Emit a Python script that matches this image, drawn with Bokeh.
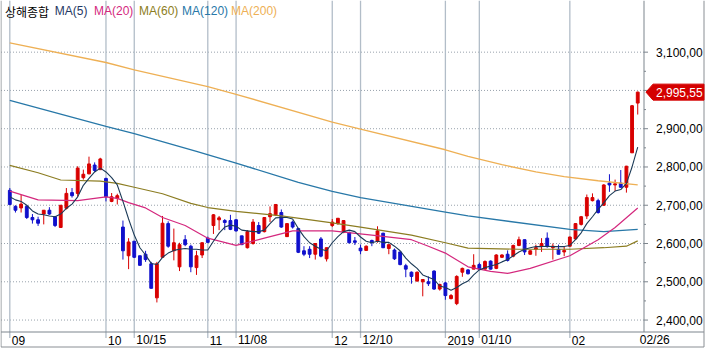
from bokeh.plotting import figure
from bokeh.models import Label, Range1d, ColumnDataSource
from bokeh.core.properties import value
from bokeh.embed import file_html
from bokeh.resources import INLINE

# ---------------- data ----------------
opens = [2739, 2697, 2693, 2697, 2668, 2662, 2677, 2687, 2670, 2642,
         2692, 2733, 2731, 2772, 2782, 2805, 2793, 2770, 2710, 2718,
         2643, 2568, 2606, 2568, 2572, 2547, 2458, 2564, 2652, 2581,
         2539, 2610, 2593, 2537, 2570, 2614, 2647, 2662, 2660, 2660,
         2662, 2620, 2589, 2600, 2647, 2631, 2670, 2675, 2681, 2618,
         2656, 2639, 2581, 2585, 2572, 2612, 2560, 2647, 2652, 2629,
         2629, 2607, 2588, 2582, 2608, 2606, 2627, 2587, 2583, 2578,
         2542, 2525, 2502, 2500, 2500, 2528, 2481, 2497, 2456, 2443,
         2525, 2531, 2533, 2545, 2533, 2554, 2535, 2564, 2572, 2567,
         2595, 2610, 2572, 2585, 2592, 2614, 2589, 2585, 2578, 2593,
         2612, 2650, 2672, 2712, 2712, 2700, 2758, 2753, 2758, 2747,
         2837, 2967]
highs = [2745, 2700, 2727, 2700, 2677, 2670, 2687, 2695, 2672, 2700,
         2745, 2745, 2802, 2793, 2827, 2812, 2824, 2772, 2732, 2730,
         2660, 2614, 2606, 2568, 2581, 2552, 2552, 2672, 2658, 2639,
         2602, 2622, 2597, 2581, 2603, 2618, 2677, 2672, 2664, 2675,
         2664, 2620, 2635, 2664, 2656, 2668, 2697, 2703, 2689, 2652,
         2660, 2641, 2593, 2593, 2600, 2617, 2589, 2664, 2666, 2660,
         2631, 2617, 2597, 2595, 2610, 2645, 2628, 2597, 2587, 2578,
         2547, 2527, 2527, 2506, 2514, 2530, 2495, 2500, 2468, 2517,
         2537, 2533, 2572, 2550, 2556, 2556, 2572, 2572, 2582, 2597,
         2618, 2610, 2582, 2597, 2614, 2629, 2600, 2597, 2592, 2618,
         2653, 2672, 2728, 2731, 2717, 2755, 2781, 2767, 2792, 2803,
         2962, 2997]
lows = [2700, 2681, 2681, 2664, 2652, 2646, 2650, 2675, 2643, 2641,
        2689, 2720, 2722, 2767, 2781, 2787, 2792, 2710, 2708, 2702,
        2558, 2533, 2562, 2542, 2552, 2482, 2446, 2562, 2589, 2556,
        2528, 2593, 2525, 2518, 2562, 2602, 2625, 2635, 2635, 2635,
        2631, 2596, 2587, 2597, 2625, 2629, 2656, 2672, 2641, 2617,
        2639, 2575, 2567, 2562, 2558, 2564, 2553, 2643, 2649, 2627,
        2600, 2596, 2572, 2581, 2593, 2602, 2588, 2572, 2557, 2543,
        2512, 2495, 2500, 2462, 2489, 2479, 2477, 2453, 2454, 2439,
        2513, 2519, 2533, 2532, 2532, 2532, 2533, 2562, 2553, 2564,
        2593, 2570, 2571, 2568, 2578, 2589, 2558, 2572, 2567, 2592,
        2610, 2647, 2664, 2710, 2678, 2698, 2735, 2737, 2746, 2733,
        2837, 2937]
closes = [2702, 2687, 2703, 2668, 2662, 2653, 2687, 2677, 2647, 2700,
          2731, 2725, 2797, 2781, 2808, 2791, 2821, 2722, 2722, 2725,
          2581, 2604, 2564, 2543, 2558, 2483, 2547, 2653, 2593, 2602,
          2597, 2597, 2539, 2568, 2602, 2603, 2675, 2667, 2655, 2637,
          2633, 2597, 2631, 2656, 2627, 2668, 2678, 2702, 2643, 2652,
          2643, 2577, 2572, 2572, 2600, 2567, 2589, 2656, 2666, 2660,
          2602, 2603, 2581, 2593, 2602, 2633, 2589, 2597, 2560, 2545,
          2533, 2514, 2525, 2506, 2495, 2481, 2493, 2464, 2464, 2514,
          2535, 2521, 2543, 2533, 2553, 2533, 2570, 2570, 2556, 2595,
          2610, 2578, 2581, 2589, 2600, 2592, 2593, 2572, 2582, 2617,
          2652, 2670, 2720, 2720, 2681, 2753, 2753, 2756, 2747, 2802,
          2960, 2995.55]

ma5 = [2722, 2714, 2710, 2700, 2685, 2677, 2675, 2672, 2670, 2677,
       2692, 2703, 2722, 2752, 2770, 2787, 2797, 2787, 2772, 2753,
       2710, 2664, 2622, 2589, 2570, 2548, 2545, 2564, 2575, 2582,
       2585, 2587, 2585, 2585, 2583, 2583, 2606, 2627, 2643, 2648,
       2645, 2635, 2633, 2631, 2631, 2635, 2652, 2667, 2668, 2668,
       2664, 2639, 2618, 2602, 2593, 2585, 2581, 2602, 2618, 2631,
       2635, 2631, 2617, 2606, 2602, 2606, 2603, 2603, 2593, 2581,
       2562, 2547, 2535, 2518, 2512, 2506, 2489, 2485, 2478, 2485,
       2495, 2502, 2518, 2531, 2537, 2541, 2545, 2552, 2558, 2568,
       2578, 2585, 2589, 2592, 2592, 2593, 2592, 2592, 2592, 2595,
       2610, 2628, 2652, 2670, 2689, 2706, 2725, 2737, 2741, 2757,
       2800, 2852]

ma20_idx = [0, 5, 12, 15, 17, 19, 21, 24, 27, 31, 35, 40, 45, 50, 57, 64, 71, 74, 77, 81, 85, 88, 92, 99, 104, 107, 111]
ma20_val = [2737, 2714, 2712, 2718, 2722, 2718, 2707, 2693, 2668, 2647, 2614, 2595, 2614, 2633, 2633, 2622, 2610, 2593, 2575, 2539, 2527, 2522, 2535, 2568, 2610, 2642, 2693]

ma60_idx = [0, 5, 9, 16, 19, 22, 27, 32, 35, 40, 48, 57, 62, 71, 77, 81, 90, 99, 105, 109, 111]
ma60_val = [2804, 2785, 2766, 2763, 2757, 2747, 2730, 2705, 2694, 2684, 2672, 2654, 2643, 2622, 2602, 2588, 2585, 2585, 2589, 2593, 2607]

ma120_idx = [0, 17, 22, 33, 40, 51, 57, 62, 77, 81, 99, 105, 111]
ma120_val = [2974, 2906, 2887, 2841, 2810, 2760, 2736, 2720, 2682, 2672, 2637, 2631, 2637]

ma200_idx = [0, 17, 22, 35, 40, 57, 62, 77, 81, 87, 93, 98, 104, 111]
ma200_val = [3124, 3073, 3054, 3010, 2990, 2917, 2899, 2845, 2828, 2806, 2787, 2775, 2764, 2753]

date_idx = [0, 17, 22, 35, 40, 57, 62, 77, 83, 99, 111]
date_labels = ["09", "10", "10/15", "11", "11/08", "12", "12/10", "2019", "01/10", "02", "02/26"]
grid_idx = [0, 17, 22, 35, 40, 57, 62, 77, 83, 99]

price_ticks = [2400, 2500, 2600, 2700, 2800, 2900, 3000, 3100]
price_minor = [2450, 2550, 2650, 2750, 2850, 2950, 3050]
label_ticks = [2400, 2500, 2600, 2700, 2800, 2900, 3100]
label_texts = ["2,400,00", "2,500,00", "2,600,00", "2,700,00", "2,800,00", "2,900,00", "3,100,00"]
last_price = 2995.55
last_label = "2,995,55"

legend_texts = ["상해종합", "MA(5)", "MA(20)", "MA(60)", "MA(120)", "MA(200)"]
legend_colors = ["#000000", "#1f3864", "#d4287e", "#8c7d22", "#2878a8", "#eeb055"]

# ---------------- layout (pixel geometry -> data space) ----------------
W, H = 705, 348
SX = 5.657            # px per candle
SY = 0.3827           # px per index point
X0 = -9.3 / SX
X1 = X0 + W / SX
Y1 = 3235.0
Y0 = Y1 - H / SY


def dx(px):
    return X0 + px / SX


def dy(py):
    return Y1 - py / SY


AXIS_PX, RULE_PY = 643.5, 331.5
AX, RY = dx(AXIS_PX), dy(RULE_PY)
LEFT, RIGHT, BOTTOM, TOP = dx(0.5), dx(703.5), dy(346.5), dy(0)

UP, DOWN = "#d80000", "#1010cc"
GRID_V, GRID_H, AXIS_C, BORDER_C = "#b2bdc8", "#98a2ac", "#7d858d", "#8a8f94"
FONT = value("Liberation Sans")

p = figure(width=W, height=H, x_range=Range1d(X0, X1), y_range=Range1d(Y0, Y1),
           output_backend="svg", toolbar_location=None,
           x_axis_location=None, y_axis_location=None, min_border=0)
p.grid.visible = False
p.outline_line_color = None
p.background_fill_color = "white"
p.border_fill_color = "white"

# horizontal dotted grid
p.segment(x0=[LEFT] * len(price_ticks), y0=price_ticks, x1=[AX] * len(price_ticks), y1=price_ticks,
          line_color=GRID_H, line_width=1, line_dash="1 2")
# vertical grid (runs a little below the rule as tick marks)
p.segment(x0=grid_idx, y0=[dy(RULE_PY + 6)] * len(grid_idx), x1=grid_idx, y1=[TOP] * len(grid_idx),
          line_color=GRID_V, line_width=1.3)

# candles
idx = list(range(len(closes)))
colors = [UP if c >= o else DOWN for o, c in zip(opens, closes)]
src = ColumnDataSource(dict(x=idx, h=highs, l=lows,
                            top=[max(o, c) for o, c in zip(opens, closes)],
                            bot=[min(o, c) for o, c in zip(opens, closes)],
                            col=colors))
p.segment(x0="x", y0="l", x1="x", y1="h", line_color="col", line_width=1, source=src)
p.vbar(x="x", width=0.5, top="top", bottom="bot", fill_color="col", line_color="col",
       line_width=1, source=src)

# moving averages
p.line(ma200_idx, ma200_val, line_color=legend_colors[5], line_width=1.3)
p.line(ma120_idx, ma120_val, line_color=legend_colors[4], line_width=1.3)
p.line(ma60_idx, ma60_val, line_color=legend_colors[3], line_width=1.2)
p.line(ma20_idx, ma20_val, line_color=legend_colors[2], line_width=1.2)
p.line(idx, ma5, line_color="#1b3a57", line_width=1.1)

# right price axis
p.segment(x0=[AX], y0=[RY], x1=[AX], y1=[TOP], line_color=AXIS_C, line_width=1)
p.segment(x0=[AX] * len(price_ticks), y0=price_ticks, x1=[dx(AXIS_PX + 4)] * len(price_ticks),
          y1=price_ticks, line_color=AXIS_C, line_width=1)
p.segment(x0=[AX] * len(price_minor), y0=price_minor, x1=[dx(AXIS_PX + 2)] * len(price_minor),
          y1=price_minor, line_color=AXIS_C, line_width=1)
p.text(x=[dx(AXIS_PX + 12)] * len(label_ticks), y=label_ticks, text=label_texts,
       text_font=FONT, text_font_size="12px", text_color="#000000",
       text_align="left", text_baseline="middle")

# bottom rule and date labels
p.segment(x0=[LEFT], y0=[RY], x1=[RIGHT], y1=[RY], line_color=AXIS_C, line_width=1)
p.text(x=date_idx, y=[dy(339.5)] * len(date_idx), text=date_labels, x_offset=2,
       text_font=FONT, text_font_size="12px", text_color="#000000",
       text_align="left", text_baseline="middle")

# outer border (left, right, bottom)
p.segment(x0=[LEFT, RIGHT, LEFT], y0=[TOP, TOP, BOTTOM], x1=[LEFT, RIGHT, RIGHT],
          y1=[BOTTOM, BOTTOM, BOTTOM], line_color=BORDER_C, line_width=1)

# current price tag
d = 8 / SY
p.patch(x=[dx(AXIS_PX + 2), dx(AXIS_PX + 9), RIGHT, RIGHT, dx(AXIS_PX + 9)],
        y=[last_price, last_price + d, last_price + d, last_price - d, last_price - d],
        fill_color="#d40000", line_color="#d40000", line_width=1)
p.text(x=[dx(AXIS_PX + 12)], y=[last_price], text=[last_label], text_font=FONT,
       text_font_size="12px", text_color="#ffffff", text_align="left", text_baseline="middle")

# legend / title line
legend_px = [4.4, 54.3, 93.5, 138.5, 181.6, 230.6]
for px, t, c in zip(legend_px, legend_texts, legend_colors):
    p.add_layout(Label(x=px, y=H - 10.5, x_units="screen", y_units="screen", text=t,
                       text_baseline="middle", text_align="left",
                       text_font="Noto Sans CJK KR" if t == legend_texts[0] else "Liberation Sans",
                       text_font_size="12px", text_color=c))

open("out.html", "w").write(file_html(p, INLINE))
